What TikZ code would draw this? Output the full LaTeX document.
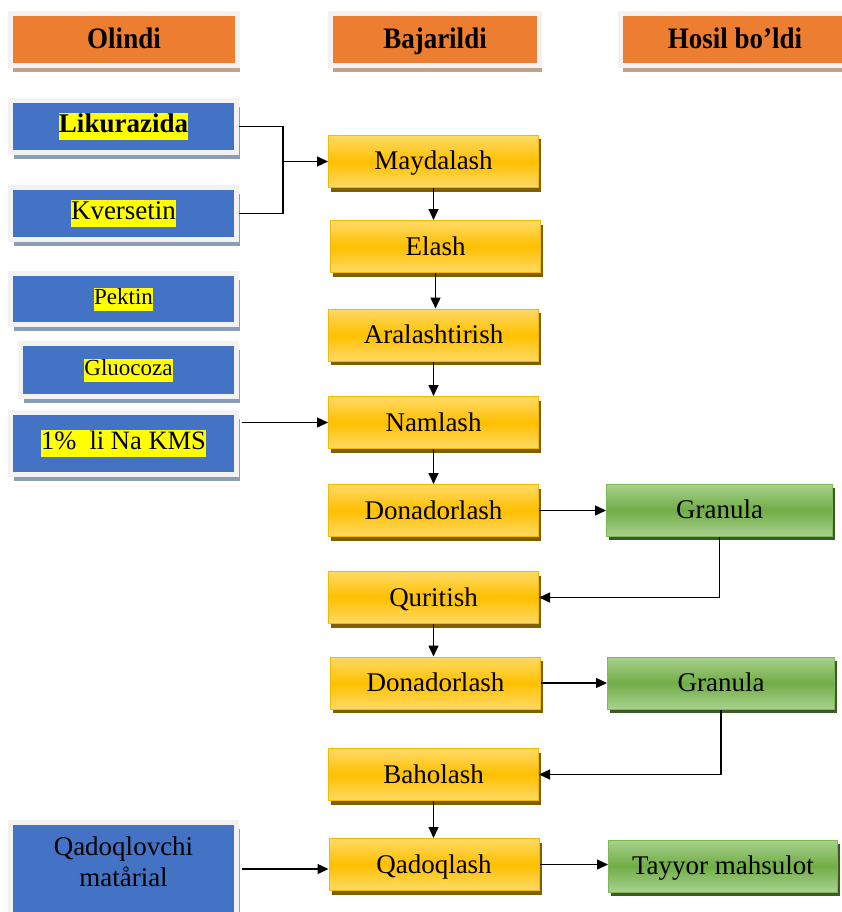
\documentclass[tikz,border=0pt]{standalone}
\usepackage{fontspec}
\setmainfont{Liberation Serif}
\usetikzlibrary{shadows,arrows.meta}

\definecolor{hdrorange}{HTML}{ED7D31}
\definecolor{framegray}{HTML}{F2F2F2}
\definecolor{hdrshadow}{HTML}{C4A38C}
\definecolor{inblue}{HTML}{4472C4}
\definecolor{blueshadow}{HTML}{8C9DB6}
\definecolor{steplight}{HTML}{FFD966}
\definecolor{stepmid}{HTML}{FFC000}
\definecolor{stepedge}{HTML}{F5BA00}
\definecolor{stepshadow}{HTML}{7F6000}
\definecolor{outlight}{HTML}{A9D18E}
\definecolor{outmid}{HTML}{70AD47}
\definecolor{outedge}{HTML}{7DB955}
\definecolor{outshadow}{HTML}{3B5A26}
\definecolor{marker}{HTML}{FFFF00}

% yellow text highlight
\newcommand{\hlword}[1]{{\setlength{\fboxsep}{0pt}\colorbox{marker}{\rule[-0.27em]{0pt}{1.0em}#1}}}

\tikzset{
  every node/.style={font=\fontsize{27}{31}\selectfont, text=black, inner sep=0pt, align=center},
  header/.style={rectangle, fill=hdrorange, draw=framegray, line width=5pt,
    minimum height=52pt, font=\fontsize{27}{31}\selectfont\bfseries,
    text height=24pt, text depth=5pt,
    drop shadow={shadow xshift=2pt, shadow yshift=-6.5pt, fill=hdrshadow, opacity=1}},
  inbox/.style={rectangle, fill=inblue, draw=framegray, line width=5pt,
    minimum width=226pt,
    drop shadow={shadow xshift=3pt, shadow yshift=-6.5pt, fill=blueshadow, opacity=1}},
  stepbox/.style={rectangle, draw=stepedge, line width=1pt,
    top color=steplight, bottom color=steplight, middle color=stepmid,
    minimum width=210pt, minimum height=52pt, text height=21pt, text depth=4pt,
    drop shadow={shadow xshift=2.5pt, shadow yshift=-4pt, fill=stepshadow, opacity=1}},
  outbox/.style={rectangle, draw=outedge, line width=1pt,
    top color=outlight, bottom color=outlight, middle color=outmid,
    minimum height=52pt, text height=21pt, text depth=4pt,
    drop shadow={shadow xshift=2.5pt, shadow yshift=-4pt, fill=outshadow, opacity=1}},
  link/.style={line width=1.4pt, draw=black},
  flow/.style={link, -{Triangle[length=11pt,width=10pt]}},
}

\begin{document}
\begin{tikzpicture}[x=1pt, y=-1pt]
\useasboundingbox (0,0) rectangle (842,912);
\clip (0,0) rectangle (842,912);

% column headers
\node[header, minimum width=227pt] (hin)  at (124,39.5) {\scalebox{1}[1.1]{Olindi}};
\node[header, minimum width=209pt] (hdo)  at (435,39.5) {\scalebox{1}[1.1]{Bajarildi}};
\node[header, minimum width=229pt] (hout) at (735,39.5) {\scalebox{1}[1.1]{Hosil bo’ldi}};

% inputs
\node[inbox, minimum height=52pt] (lik) at (123.5,126.5) {\hlword{\bfseries Likurazida}};
\node[inbox, minimum height=52pt] (kve) at (123.5,213.5) {\hlword{Kversetin}};
\node[inbox, minimum height=51pt, font=\fontsize{23}{27}\selectfont] (pek) at (123.5,299) {\hlword{Pektin}};
\node[inbox, minimum width=216pt, minimum height=53pt, font=\fontsize{23}{27}\selectfont] (glu) at (128.5,370) {\hlword{Gluocoza}};
\node[inbox, minimum height=62pt, font=\fontsize{26.5}{31}\selectfont] (kms) at (123.5,443.5) {\raisebox{6.5pt}{\hlword{1\%\ \ li Na KMS}}};
\node[inbox, minimum height=94pt, text depth=14pt] (qad) at (123.5,869) {Qadoqlovchi\\mat\r{a}rial};

% process steps
\node[stepbox] (may) at (433.5,161.5) {Maydalash};
\node[stepbox] (ela) at (435.5,246.5) {Elash};
\node[stepbox] (ara) at (433.5,335)   {Aralashtirish};
\node[stepbox] (nam) at (433.5,422.5) {Namlash};
\node[stepbox] (don) at (433.5,510.5) {Donadorlash};
\node[stepbox] (qur) at (433.5,597.5) {Quritish};
\node[stepbox] (dtw) at (435.5,683)   {Donadorlash};
\node[stepbox] (bah) at (433.5,774.5) {Baholash};
\node[stepbox] (pak) at (434,864.5)   {Qadoqlash};

% results
\node[outbox, minimum width=226pt] (gra) at (719.5,510)   {Granula};
\node[outbox, minimum width=227pt] (grb) at (721,683)     {Granula};
\node[outbox, minimum width=229pt] (tay) at (723,866)     {Tayyor mahsulot};

% joining the two first inputs
\coordinate (jn) at (283,161.5);
\draw[link] (lik.east) -| (jn);
\draw[link] (kve.east) -| (jn);
\draw[flow] (jn) -- (may.west);

% main chain
\draw[flow] (may.south) -- (may.south |- ela.north);
\draw[flow] (ela.south) -- (ela.south |- ara.north);
\draw[flow] (ara.south) -- (ara.south |- nam.north);
\draw[flow] (nam.south) -- (nam.south |- don.north);
\draw[flow] (qur.south) -- (qur.south |- dtw.north);
\draw[flow] (bah.south) -- (bah.south |- pak.north);

% side inputs
\draw[flow, shorten <=2.5pt] (kms.east |- nam.west) -- (nam.west);
\draw[flow, shorten <=2.5pt] (qad.east) -- (qad.east -| pak.west);

% granules and returns
\draw[flow] (don.east) -- (don.east -| gra.west);
\draw[flow] (gra.south) |- (qur.east);
\draw[flow] (dtw.east) -- (dtw.east -| grb.west);
\draw[flow] (grb.south) |- (bah.east);
\draw[flow] (pak.east) -- (pak.east -| tay.west);
\end{tikzpicture}
\end{document}
